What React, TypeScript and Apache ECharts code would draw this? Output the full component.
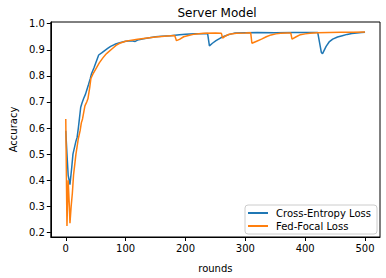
import React, { useEffect, useRef } from "react";
import * as echarts from "echarts";

const ceRounds = [0, 2, 4, 7, 10, 12, 14, 17, 19, 21, 23, 25, 27, 30, 33, 35, 38, 41, 43, 47, 51, 55, 60, 65, 70, 75, 82, 90, 100, 110, 116, 120, 130, 140, 150, 160, 175, 190, 200, 215, 230, 237, 240, 245, 251, 259, 267, 275, 283, 300, 320, 350, 380, 400, 421, 427, 429, 435, 440, 446, 454, 462, 470, 478, 486, 494, 500];
const ceAcc = [0.59, 0.5, 0.42, 0.383, 0.45, 0.5, 0.52, 0.55, 0.565, 0.6, 0.64, 0.68, 0.695, 0.714, 0.73, 0.745, 0.767, 0.79, 0.808, 0.83, 0.855, 0.88, 0.888, 0.897, 0.905, 0.913, 0.921, 0.927, 0.933, 0.935, 0.932, 0.937, 0.942, 0.946, 0.95, 0.952, 0.954, 0.958, 0.96, 0.961, 0.961, 0.962, 0.915, 0.925, 0.935, 0.946, 0.954, 0.96, 0.964, 0.965, 0.966, 0.965, 0.966, 0.966, 0.966, 0.89, 0.885, 0.913, 0.93, 0.941, 0.949, 0.954, 0.959, 0.962, 0.964, 0.966, 0.967];

const ffRounds = [0, 2, 4, 6, 7, 9, 11, 13, 15, 17, 19, 21, 24, 26, 28, 30, 32, 35, 37, 40, 42, 46, 51, 56, 62, 67, 70, 78, 84, 90, 100, 110, 120, 130, 140, 150, 160, 170, 182, 185, 190, 197, 205, 215, 230, 250, 260, 262, 267, 273, 285, 300, 309, 311, 318, 327, 335, 343, 351, 359, 370, 376, 378, 385, 392, 400, 408, 420, 440, 460, 480, 500];
const ffAcc = [0.635, 0.225, 0.4, 0.3, 0.235, 0.3, 0.35, 0.42, 0.46, 0.5, 0.53, 0.56, 0.59, 0.62, 0.635, 0.66, 0.685, 0.7, 0.712, 0.755, 0.79, 0.81, 0.83, 0.85, 0.869, 0.883, 0.889, 0.905, 0.917, 0.925, 0.933, 0.937, 0.94, 0.943, 0.946, 0.949, 0.951, 0.953, 0.955, 0.935, 0.94, 0.95, 0.955, 0.96, 0.963, 0.964, 0.963, 0.945, 0.953, 0.96, 0.963, 0.964, 0.965, 0.925, 0.932, 0.941, 0.95, 0.957, 0.961, 0.963, 0.964, 0.964, 0.941, 0.95, 0.958, 0.961, 0.963, 0.965, 0.966, 0.967, 0.967, 0.968];

const xTicks = [0, 100, 200, 300, 400, 500];
const yTicks = [0.2, 0.3, 0.4, 0.5, 0.6, 0.7, 0.8, 0.9, 1.0];

const FONT = "DejaVu Sans";

export default function App() {
  const ref = useRef<HTMLDivElement>(null);
  useEffect(() => {
    const chart = echarts.init(ref.current!, null, { renderer: "svg" });
    const pair = (xs: number[], ys: number[]) => xs.map((x, i) => [x, ys[i]]);
    chart.setOption({
      animation: false,
      backgroundColor: "#fff",
      title: {
        text: "Server Model",
        left: 212,
        textAlign: "center",
        top: 2,
        textStyle: { fontFamily: FONT, fontSize: 12, fontWeight: "normal", color: "#000" },
      },
      grid: {
        left: 44,
        right: 6,
        top: 22,
        bottom: 39,
        show: true,
        borderColor: "#000",
        borderWidth: 1,
        backgroundColor: "transparent",
      },
      legend: {
        orient: "vertical",
        right: 9,
        bottom: 44,
        padding: [3, 6, 3, 3],
        itemWidth: 20,
        itemHeight: 2,
        itemGap: 3,
        icon: "rect",
        borderColor: "#ccc",
        borderWidth: 1,
        borderRadius: 3,
        backgroundColor: "rgba(255,255,255,0.8)",
        textStyle: { fontFamily: FONT, fontSize: 10, color: "#000", padding: [0, 0, 0, 3] },
        data: ["Cross-Entropy Loss", "Fed-Focal Loss"],
      },
      xAxis: {
        type: "value",
        min: -25,
        max: 525,
        name: "rounds",
        nameLocation: "middle",
        nameGap: 26,
        nameTextStyle: { fontFamily: FONT, fontSize: 10, color: "#000" },
        axisLine: { show: true, onZero: false, lineStyle: { color: "#000", width: 1 } },
        axisTick: { show: true, inside: false, length: 4, customValues: xTicks, lineStyle: { color: "#000" } },
        axisLabel: { customValues: xTicks, margin: 6, fontFamily: FONT, fontSize: 10, color: "#000" },
        splitLine: { show: false },
      },
      yAxis: {
        type: "value",
        min: 0.1825,
        max: 1.0065,
        name: "Accuracy",
        nameLocation: "middle",
        nameGap: 32,
        nameTextStyle: { fontFamily: FONT, fontSize: 10, color: "#000" },
        axisLine: { show: true, onZero: false, lineStyle: { color: "#000", width: 1 } },
        axisTick: { show: true, inside: false, length: 4, customValues: yTicks, lineStyle: { color: "#000" } },
        axisLabel: {
          customValues: yTicks,
          margin: 6,
          fontFamily: FONT,
          fontSize: 10,
          color: "#000",
          formatter: (v: number) => v.toFixed(1),
        },
        splitLine: { show: false },
      },
      series: [
        {
          name: "Cross-Entropy Loss",
          type: "line",
          data: pair(ceRounds, ceAcc),
          showSymbol: false,
          symbol: "none",
          lineStyle: { color: "#1f77b4", width: 1.5 },
          itemStyle: { color: "#1f77b4" },
        },
        {
          name: "Fed-Focal Loss",
          type: "line",
          data: pair(ffRounds, ffAcc),
          showSymbol: false,
          symbol: "none",
          lineStyle: { color: "#ff7f0e", width: 1.5 },
          itemStyle: { color: "#ff7f0e" },
        },
      ],
    });
    return () => chart.dispose();
  }, []);
  return (
    <div
      ref={ref}
      style={{ position: "fixed", left: 0, top: 0, width: 386, height: 278, background: "#fff" }}
    />
  );
}
